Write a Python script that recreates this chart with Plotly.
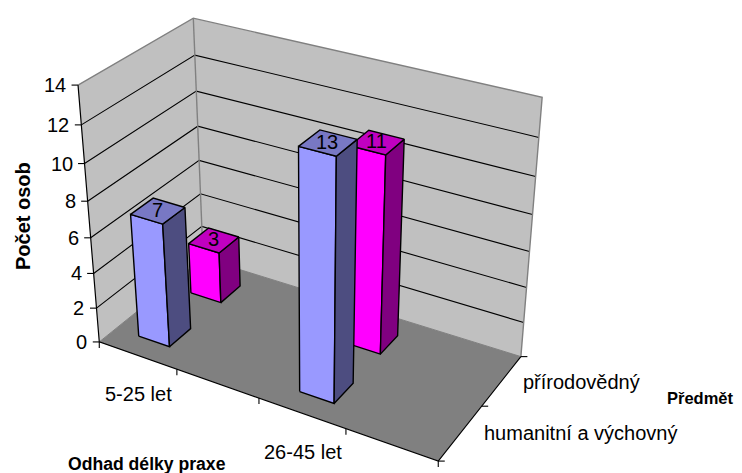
import numpy as np
import plotly.graph_objects as go

# ---- data ----
categories = ["5-25 let", "", "26-45 let", ""]
series_names = ["humanitní a výchovný", "přírodovědný"]
humanitni = [7, None, 13, None]
prirodovedny = [3, None, 11, None]
z_ticks = [0, 2, 4, 6, 8, 10, 12, 14]
y_title = "Počet osob"
x_title = "Odhad délky praxe"
s_title = "Předmět"

# ---- styles ----
WALL = "#C0C0C0"
FLOOR = "#808080"
EDGE = "#808080"
BLUE = ("#9999FF", "#7878C4", "#4D4D80")     # front, top, side
MAGENTA = ("#FF00FF", "#C000C0", "#800080")
FONT = "Liberation Sans, Arial, sans-serif"
BAR_LO, BAR_HI = 0.3, 0.7
PAGE_MARGIN = 8  # the page's body margin: the plot area starts here

# ---- 3D chart space -> page: camera calibrated on the chart box ----
calib = [
    (0, 0, 0, 99.8, 341.8), (0, 0, 14, 78.3, 85.3), (0, 0, 12, 81, 125.7), (0, 0, 10, 85, 163.3),
    (0, 0, 8, 87.3, 201), (0, 0, 6, 90.7, 237.3), (0, 0, 4, 93.3, 273.3), (0, 0, 2, 95.7, 308.3),
    (0, 2, 0, 203, 257.5), (0, 2, 14, 193.3, 17.3), (0, 2, 12, 195, 55), (0, 2, 10, 196.3, 91.7),
    (0, 2, 8, 198, 126.7), (0, 2, 6, 199, 161),
    (4, 2, 0, 520.7, 356.7), (4, 2, 14, 542, 97.3), (4, 2, 12, 539, 137.3), (4, 2, 10, 535.3, 176),
    (4, 2, 8, 532.7, 214), (4, 2, 6, 529.7, 251.7), (4, 2, 4, 526.7, 288.3), (4, 2, 2, 522.7, 322.7),
    (4, 0, 0, 437.3, 460.7), (1, 0, 0, 176.7, 369), (2, 0, 0, 260, 398.5), (3, 0, 0, 345.7, 429),
    (4, 1, 0, 483.3, 406),
]
A, b = [], []
for X, Y, Z, u, v in calib:
    A.append([X, Y, Z, 1, 0, 0, 0, 0, -u * X, -u * Y, -u * Z]); b.append(u)
    A.append([0, 0, 0, 0, X, Y, Z, 1, -v * X, -v * Y, -v * Z]); b.append(v)
p = np.linalg.lstsq(np.array(A, float), np.array(b, float), rcond=None)[0]
P = np.append(p, 1.0).reshape(3, 4)


def proj(X, Y, Z):
    q = P @ np.array([X, Y, Z, 1.0])
    return q[0] / q[2], q[1] / q[2]


fig = go.Figure()


def poly(pts, fill=None, line=None, width=1.0, dash=None):
    uv = [proj(*q) for q in pts]
    xs = [c[0] for c in uv]
    ys = [c[1] for c in uv]
    if fill:
        xs.append(xs[0]); ys.append(ys[0])
    fig.add_trace(go.Scatter(
        x=xs, y=ys, mode="lines", fill="toself" if fill else None, fillcolor=fill,
        line=dict(color=line or fill, width=width if line else 0, dash=dash),
        hoverinfo="skip", showlegend=False))


NX, NY, ZM = len(categories), len(series_names), z_ticks[-1]
# walls & floor
poly([(0, 0, 0), (0, NY, 0), (0, NY, ZM), (0, 0, ZM)], fill=WALL)
poly([(0, NY, 0), (NX, NY, 0), (NX, NY, ZM), (0, NY, ZM)], fill=WALL)
poly([(0, 0, 0), (NX, 0, 0), (NX, NY, 0), (0, NY, 0)], fill=FLOOR)
# gridlines
for z in z_ticks[1:-1]:
    poly([(0, 0, z), (0, NY, z), (NX, NY, z)], line="#000000", width=1.1)
# wall edges
poly([(0, 0, ZM), (0, NY, ZM), (NX, NY, ZM), (NX, NY, 0)], line=EDGE, width=1.4)
poly([(0, NY, ZM), (0, NY, 0)], line=EDGE, width=1.4)
poly([(0, 0, 0), (0, NY, 0), (NX, NY, 0)], line=EDGE, width=1.0)
# axis lines
poly([(0, 0, ZM), (0, 0, 0), (NX, 0, 0), (NX, NY, 0)], line="#000000", width=1.2)


def tick(X, Y, Z, dx, dy):
    u, v = proj(X, Y, Z)
    fig.add_trace(go.Scatter(x=[u, u + dx], y=[v, v + dy], mode="lines",
                             line=dict(color="#000000", width=1.1),
                             hoverinfo="skip", showlegend=False))


for z in z_ticks:
    tick(0, 0, z, -6.5, 0)
for i in range(NX + 1):
    tick(i, 0, 0, 0, 6)
for j in range(NY + 1):
    tick(NX, j, 0, 6.5, 0)


def bar(i, j, h, cols):
    x0, x1, y0, y1 = i + BAR_LO, i + BAR_HI, j + BAR_LO, j + BAR_HI
    ln = dict(line="#000000", width=1.4)
    poly([(x0, y0, 0), (x1, y0, 0), (x1, y0, h), (x0, y0, h)], fill=cols[0], **ln)
    poly([(x1, y0, 0), (x1, y1, 0), (x1, y1, h), (x1, y0, h)], fill=cols[2], **ln)
    poly([(x0, y0, h), (x1, y0, h), (x1, y1, h), (x0, y1, h)], fill=cols[1], **ln)


order = [(1, prirodovedny, MAGENTA), (0, humanitni, BLUE)]
for i in range(NX):
    for j, vals, cols in order:
        if vals[i] is not None:
            bar(i, j, vals[i], cols)


def label(x, y, s, size=20, bold=False, anchor="center", angle=0):
    fig.add_annotation(x=x, y=y, text=f"<b>{s}</b>" if bold else s, showarrow=False,
                       xanchor=anchor, yanchor="middle", textangle=angle,
                       font=dict(family=FONT, size=size, color="#000000"))


# data labels on bar tops
for j, vals in enumerate([humanitni, prirodovedny]):
    for i, v in enumerate(vals):
        if v is not None:
            u, w = proj(i + 0.5, j + 0.5, v)
            label(u - 0.5, w - 1, str(v))
# tick labels
for z in z_ticks:
    u, w = proj(0, 0, z)
    label(u - 10, w, str(z), anchor="right")
label(138, 394, categories[0])
label(303, 452, categories[2])
label(521, 382, series_names[1], anchor="left")
label(482, 433, series_names[0], anchor="left")
# titles
label(22.5, 216.5, y_title, size=20, bold=True, angle=-90)
label(147, 464, x_title, size=17.6, bold=True)
label(700, 398, s_title, size=16.5, bold=True)

fig.update_xaxes(range=[PAGE_MARGIN, 742], visible=False, fixedrange=True)
fig.update_yaxes(range=[473, PAGE_MARGIN], visible=False, fixedrange=True)
fig.update_layout(width=742 - PAGE_MARGIN, height=473 - PAGE_MARGIN,
                  margin=dict(l=0, r=0, t=0, b=0),
                  paper_bgcolor="white", plot_bgcolor="white", showlegend=False)
fig.write_html("out.html", config={"displayModeBar": False})
